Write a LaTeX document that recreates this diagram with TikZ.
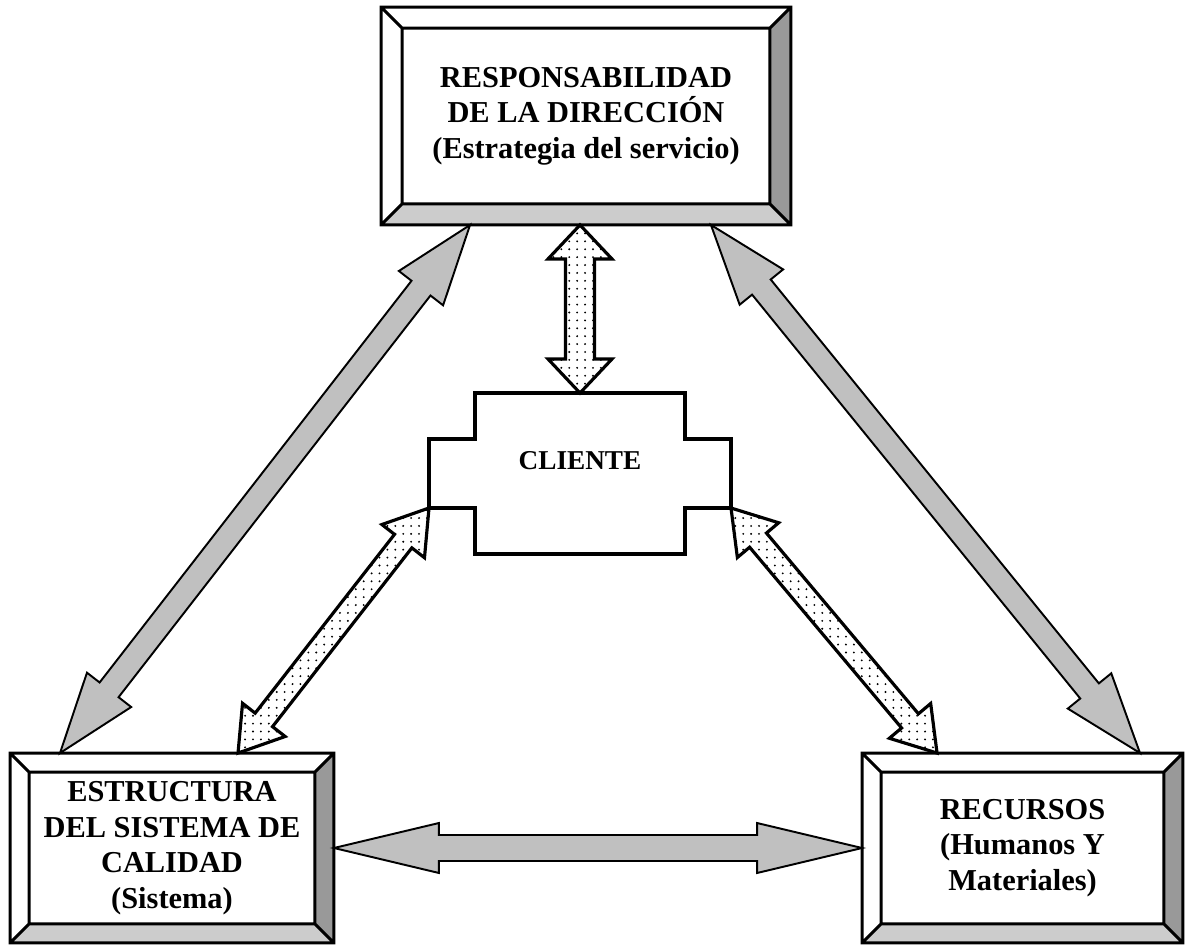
\documentclass[tikz,border=0pt]{standalone}
\usepackage{fontspec}
\setmainfont{Liberation Serif}
\usetikzlibrary{calc,patterns.meta}

\definecolor{grisflecha}{HTML}{C0C0C0}
\definecolor{grisoscuro}{HTML}{999999}
\definecolor{grisclaro}{HTML}{CCCCCC}

% flecha de bloque con dos puntas: inicio, fin, medio ancho del cuerpo, medio ancho de la punta, largo de la punta, estilo
\newcommand{\dblarrow}[6]{%
	\path[#6] (#1) -- ($($(#1)!#5!(#2)$)!#4!90:(#2)$) -- ($($(#1)!#5!(#2)$)!#3!90:(#2)$)
		-- ($($(#2)!#5!(#1)$)!#3!-90:(#1)$) -- ($($(#2)!#5!(#1)$)!#4!-90:(#1)$) -- (#2)
		-- ($($(#2)!#5!(#1)$)!#4!90:(#1)$) -- ($($(#2)!#5!(#1)$)!#3!90:(#1)$)
		-- ($($(#1)!#5!(#2)$)!#3!-90:(#2)$) -- ($($(#1)!#5!(#2)$)!#4!-90:(#2)$) -- cycle;
}

% marco biselado alrededor de un nodo
\newcommand{\bisel}[2]{%
	\coordinate (#1-a) at ($(#1.north west)+(#2,#2)$);
	\coordinate (#1-b) at ($(#1.north east)+(-#2,#2)$);
	\coordinate (#1-c) at ($(#1.south east)+(-#2,-#2)$);
	\coordinate (#1-d) at ($(#1.south west)+(#2,-#2)$);
	\fill[white] (#1.north west) -- (#1.north east) -- (#1-b) -- (#1-a) -- cycle;
	\fill[white] (#1.north west) -- (#1-a) -- (#1-d) -- (#1.south west) -- cycle;
	\fill[grisoscuro] (#1.north east) -- (#1.south east) -- (#1-c) -- (#1-b) -- cycle;
	\fill[grisclaro] (#1.south west) -- (#1-d) -- (#1-c) -- (#1.south east) -- cycle;
	\draw[line width=1.7pt] (#1.north west) rectangle (#1.south east) (#1-a) rectangle (#1-c)
		(#1.north west) -- (#1-a) (#1.north east) -- (#1-b)
		(#1.south east) -- (#1-c) (#1.south west) -- (#1-d);
}

\begin{document}
\begin{tikzpicture}[x=0.02cm,y=-0.02cm,
		caja/.style={inner sep=0pt,outer sep=0pt,align=center,font=\bfseries\fontsize{17.3}{20.2}\selectfont},
		gris/.style={fill=grisflecha,draw=black,line width=1.1pt},
		punteada/.style={preaction={fill=white},pattern={Dots[distance=4.5pt,radius=0.6pt]},pattern color=black,draw=black,line width=1.8pt}]
	\useasboundingbox (0,0) rectangle (1185,945);

	% cajas
	\node[caja,minimum width=8.2cm,minimum height=4.36cm] (resp) at (586,116) {RESPONSABILIDAD\\DE LA DIRECCIÓN\\(Estrategia del servicio)};
	\node[caja,minimum width=6.48cm,minimum height=3.8cm] (est) at (172,848) {ESTRUCTURA\\DEL SISTEMA DE\\CALIDAD\\(Sistema)};
	\node[caja,minimum width=6.42cm,minimum height=3.8cm] (rec) at (1022.5,848) {RECURSOS\\(Humanos Y\\Materiales)};
	\bisel{resp}{21}
	\bisel{est}{19}
	\bisel{rec}{19}

	% cliente
	\node[font=\bfseries\fontsize{15.5}{18}\selectfont] (cli) at (580,461) {CLIENTE};
	\draw[line width=2pt] (475,393) -- (685,393) -- (685,439) -- (731,439) -- (731,508) coordinate (cli-se)
		-- (685,508) -- (685,554) -- (475,554) -- (475,508) -- (429,508) coordinate (cli-sw)
		-- (429,439) -- (475,439) -- cycle;
	\coordinate (clitop) at (580,393);

	% extremos de las flechas
	\coordinate (vtop) at (resp.south -| cli);
	\coordinate (gl1) at ($(resp.south west)+(89,0)$);
	\coordinate (gl2) at ($(est.north west)+(50,0)$);
	\coordinate (gr1) at ($(resp.south east)+(-80,0)$);
	\coordinate (gr2) at ($(rec.north east)+(-43,0)$);
	\coordinate (dl2) at ($(est.north west)+(228,0)$);
	\coordinate (dr2) at ($(rec.north west)+(75,0)$);

	% flechas
	\dblarrow{gl1}{gl2}{0.24cm}{0.56cm}{1.6cm}{gris}
	\dblarrow{gr1}{gr2}{0.24cm}{0.56cm}{1.6cm}{gris}
	\dblarrow{est.east}{rec.west}{0.26cm}{0.5cm}{2.1cm}{gris}
	\dblarrow{vtop}{clitop}{0.29cm}{0.64cm}{0.68cm}{punteada}
	\dblarrow{cli-sw}{dl2}{0.22cm}{0.54cm}{0.84cm}{punteada}
	\dblarrow{cli-se}{dr2}{0.22cm}{0.54cm}{0.84cm}{punteada}
\end{tikzpicture}
\end{document}
